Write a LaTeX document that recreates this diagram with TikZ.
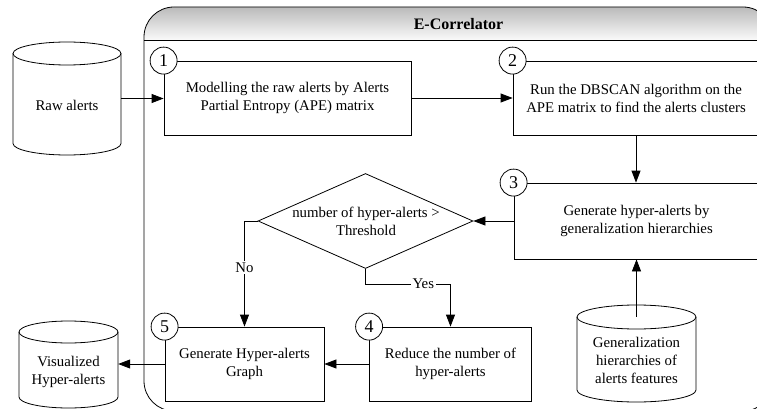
\documentclass[tikz,border=0pt]{standalone}
\usepackage{fontspec}
\setmainfont{Liberation Serif}
\usetikzlibrary{arrows.meta,shapes.geometric}
\newcommand\mycyl[5]{% cx, rx, ytop, ybot, ry
  \draw[ln] ({#1-#2},#3) -- ({#1-#2},#4) arc[start angle=180, end angle=0, x radius=#2, y radius=#5] -- ({#1+#2},#3);
  \draw[ln] (#1,#3) ellipse[x radius=#2, y radius=#5];
}
\begin{document}
\begin{tikzpicture}[x=1pt,y=-1pt,
  every node/.style={font=\fontsize{14.8}{18}\selectfont, align=center},
  ln/.style={line width=0.8pt},
  arr/.style={line width=0.8pt, -{Triangle[length=12pt,width=9pt]}},
  stepbox/.style={draw, line width=0.8pt, rectangle, inner sep=0pt},
  num/.style={circle, draw, fill=white, line width=0.8pt, minimum size=27pt, inner sep=0pt, font=\fontsize{18}{18}\selectfont},
  lbl/.style={fill=white, inner sep=1.5pt}]
\useasboundingbox (0,0) rectangle (757,409);
\clip (0,0) rectangle (757,409);

% container
\begin{scope}
  \clip[rounded corners=30pt] (144,7) rectangle (773,411);
  \shade[top color=black!27, bottom color=black!2] (144,7) rectangle (773,40);
\end{scope}
\draw[ln, rounded corners=30pt] (144,7) rectangle (773,411);
\draw[ln] (144,40) -- (773,40);
\node[font=\bfseries\fontsize{16}{18}\selectfont] (title) at (458.5,24) {E-Correlator};

% cylinders
\mycyl{67}{54}{53.5}{143.5}{11.5}
\node[minimum width=108pt, minimum height=90pt, inner sep=0pt] (raw) at (67,98.5) {};
\node (rawt) at (67,105) {Raw alerts};

\mycyl{68.5}{49.5}{332}{397}{11}
\node[minimum width=99pt, minimum height=60pt, inner sep=0pt] (vis) at (68.5,364) {};
\node (vist) at (68.5,372) {Visualized\\Hyper-alerts};

\mycyl{636.5}{59.5}{317}{390}{12}
\node[minimum width=119pt, minimum height=73pt, inner sep=0pt] (gen) at (636.5,353.5) {};
\node (gent) at (636.5,360) {Generalization\\hierarchies of\\alerts features};

% process boxes
\node[stepbox, minimum width=247pt, minimum height=74pt] (b1) at (287.5,98) {Modelling the raw alerts by Alerts\\Partial Entropy (APE) matrix};
\node[stepbox, minimum width=246pt, minimum height=74pt] (b2) at (636,98) {Run the DBSCAN algorithm on the\\APE matrix to find the alerts clusters};
\node[stepbox, minimum width=245pt, minimum height=76pt] (b3) at (636.5,221) {Generate hyper-alerts by\\generalization hierarchies};
\node[stepbox, minimum width=162pt, minimum height=74pt] (b4) at (450.5,364) {Reduce the number of\\hyper-alerts};
\node[stepbox, minimum width=159pt, minimum height=74pt] (b5) at (244.5,364) {Generate Hyper-alerts\\Graph};

% decision
\node[diamond, draw, line width=0.8pt, minimum width=215pt, minimum height=95pt, inner sep=0pt] (dec) at (365.5,221) {};
\node (dect) at (366,221) {number of hyper-alerts >\\Threshold};

% numbers
\node[num] (n1) at (b1.north west) {1};
\node[num] (n2) at (b2.north west) {2};
\node[num] (n3) at (b3.north west) {3};
\node[num] (n4) at (b4.north west) {4};
\node[num] (n5) at (b5.north west) {5};

% connectors
\draw[arr] (raw.east) -- (raw.east -| b1.west);
\draw[arr] (b1.east) -- (b2.west);
\draw[arr] (b2.south) -- (b2.south |- b3.north);
\draw[arr] (b3.west) -- (dec.east);
\draw[arr] (dec.west) -| (b5.north) node[pos=0.72, lbl] {No};
\draw[arr] (dec.south) -- ++(0,15) -| (b4.north) node[pos=0.34, lbl] {Yes};
\draw[arr] (gen.north) -- (gen.north |- b3.south);
\draw[arr] (b4.west) -- (b5.east);
\draw[arr] (b5.west) -- (vis.east);
\end{tikzpicture}
\end{document}
